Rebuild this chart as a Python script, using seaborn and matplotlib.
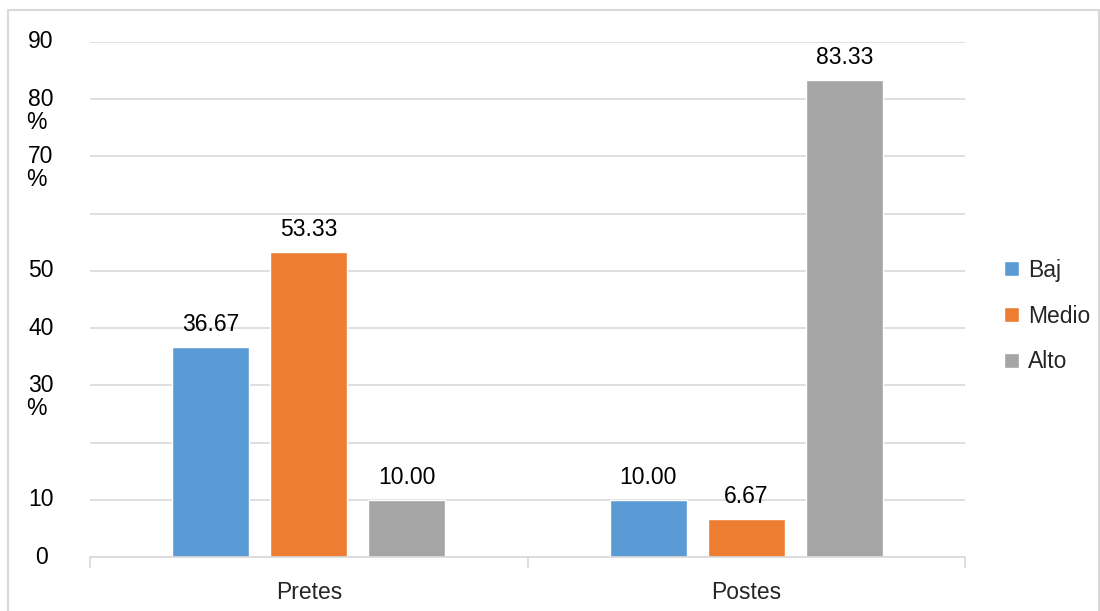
import pandas as pd
import seaborn as sns
import matplotlib.pyplot as plt
from matplotlib.patches import Rectangle
from matplotlib.transforms import blended_transform_factory, offset_copy

momentos = ["Pretes", "Postes"]
niveles = ["Baj", "Medio", "Alto"]
baj = [36.67, 10.00]
medio = [53.33, 6.67]
alto = [10.00, 83.33]
ytick_vals = [0, 10, 20, 30, 40, 50, 60, 70, 80, 90]
ytick_labels = ["0", "10", "", "30\n%", "40", "50", "", "70\n%", "80\n%", "90"]
colores = ["#5B9BD5", "#ED7D31", "#A5A5A5"]

df = pd.DataFrame({
    "Momento": momentos * 3,
    "Nivel": [n for n in niveles for _ in momentos],
    "Valor": baj + medio + alto,
})

sns.set_style("white")
plt.rcParams["font.family"] = ["Liberation Sans", "DejaVu Sans"]
fs = 16.5

fig = plt.figure(figsize=(11, 6.11), dpi=100)
ax = fig.add_axes([90 / 1100, 1 - 557 / 611, 875 / 1100, 515 / 611])

sns.barplot(data=df, x="Momento", y="Valor", hue="Nivel", order=momentos,
            hue_order=niveles, palette=colores, width=0.672, gap=0.21,
            saturation=1, ax=ax, legend=True)

for c in ax.containers:
    ax.bar_label(c, fmt="%.2f", padding=8, fontsize=fs, color="#000000")

ax.set_ylim(0, 90)
ax.set_xlim(-0.5, 1.5)
ax.set_yticks(ytick_vals)
ax.set_yticklabels([])
ax.tick_params(axis="y", length=0)
ax.grid(axis="y", color="#d9d9d9", linewidth=1.2)
ax.set_axisbelow(True)
for s in ["left", "right", "top"]:
    ax.spines[s].set_visible(False)
ax.spines["bottom"].set_color("#d9d9d9")
ax.spines["bottom"].set_linewidth(1.2)

ax.set_xticks([-0.5, 0.5, 1.5], minor=False)
ax.set_xticklabels([])
ax.tick_params(axis="x", which="major", bottom=True, length=8, color="#d9d9d9",
               width=1.2, direction="out")
ax.set_xticks([0, 1], minor=True)
ax.set_xticklabels(momentos, minor=True, fontsize=fs)
ax.tick_params(axis="x", which="minor", bottom=True, length=0, pad=17)
ax.set_xlabel("")
ax.set_ylabel("")

trans = blended_transform_factory(fig.transFigure, ax.transData)
for v, lab in zip(ytick_vals, ytick_labels):
    if not lab:
        continue
    partes = lab.split("\n")
    ax.text(41 / 1100, v, partes[0], transform=trans, ha="center", va="center",
            fontsize=fs, color="#000000")
    if len(partes) > 1:
        t2 = offset_copy(trans, fig=fig, x=0, y=-23, units="dots")
        ax.text(26 / 1100, v, partes[1], transform=t2, ha="left", va="center",
                fontsize=fs, color="#000000")

leg = ax.legend(loc="center left", bbox_to_anchor=(983 / 1100, 1 - 316 / 611),
                bbox_transform=fig.transFigure, frameon=False, fontsize=fs,
                handlelength=0.65, handleheight=0.65, handletextpad=0.4,
                labelspacing=1.0, title=None)

fig.patches.append(Rectangle((8 / 1100, -0.01), 1 - 8 / 1100 - 0.001, 1 - 10 / 611 + 0.01,
                             transform=fig.transFigure, fill=False,
                             edgecolor="#d9d9d9", linewidth=1.5))

fig.savefig("out.png", dpi=100)
